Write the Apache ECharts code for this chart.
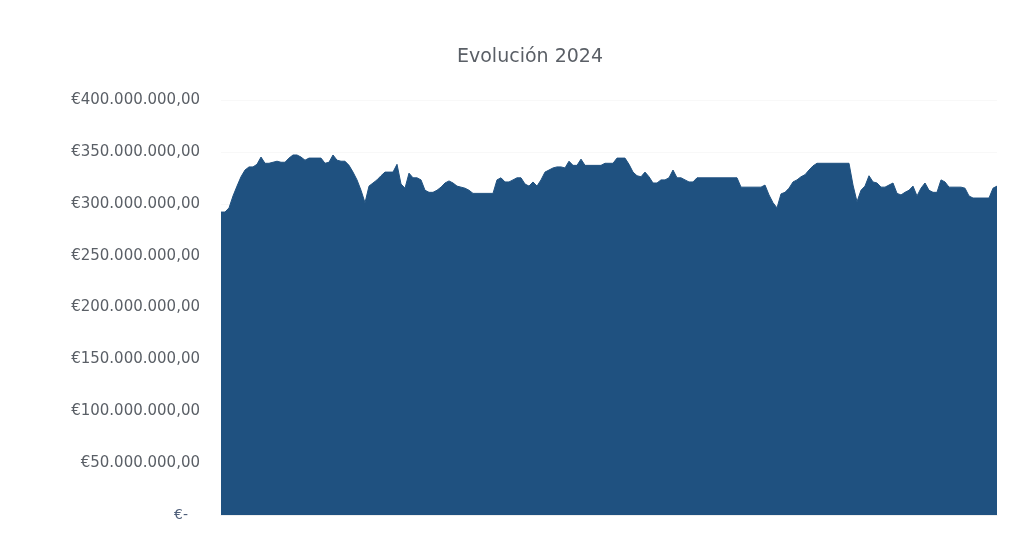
<!DOCTYPE html>
<html>
<head>
<meta charset="utf-8">
<script src="https://cdn.jsdelivr.net/npm/echarts@6/dist/echarts.min.js"></script>
<style>
html,body{margin:0;padding:0;background:#fff;}
#chart{width:1020px;height:545px;}
</style>
</head>
<body>
<div id="chart"></div>
<script>
// Daily portfolio value during 2024, in millions of euros
const valuesM = [
  292, 292, 296, 307.5, 317, 326, 332.5, 335.5, 335.5, 338,
  345, 339, 339, 340, 341, 340, 340, 344, 347, 347,
  345, 342, 344, 344, 344, 344, 339, 340, 347, 342,
  341, 341, 337, 330.5, 323, 313, 301, 317, 320, 323,
  327, 330.5, 330.5, 330.5, 338, 319, 315, 329.5, 325, 325,
  323, 313, 311, 311, 313, 316, 320, 322, 320, 317,
  316, 315, 313, 310, 310, 310, 310, 310, 310, 323,
  325, 321, 321, 323, 325, 325, 319, 317, 321, 317,
  323, 330.5, 332.5, 334.5, 335.5, 335.5, 334.5, 341, 337, 337,
  343, 337, 337, 337, 337, 337, 339, 339, 339, 344,
  344, 344, 338, 330.5, 327, 326, 330.5, 326, 320, 320,
  323, 323, 325, 332.5, 325, 325, 323, 321, 321, 325,
  325, 325, 325, 325, 325, 325, 325, 325, 325, 325,
  316, 316, 316, 316, 316, 316, 318, 308.5, 301, 296,
  309.5, 311, 315, 321, 323, 326, 328, 332.5, 336.5, 339,
  339, 339, 339, 339, 339, 339, 339, 339, 318, 302,
  313, 317, 327, 321, 320, 316, 316, 318, 320, 310,
  308.5, 311, 313, 317, 307.5, 315, 320, 313, 311, 311,
  323, 321, 316, 316, 316, 316, 315, 307.5, 305.5, 305.5,
  305.5, 305.5, 305.5, 315, 317
];
const categories = valuesM.map((_, i) => 'Día ' + (i + 1));
const yTicksM = [0, 50, 100, 150, 200, 250, 300, 350, 400];
const titleText = 'Evolución 2024';

function fmtEuro(m) {
  if (m === 0) return '{z|€-}';
  const s = String(Math.round(m * 1000000));
  const withDots = s.replace(/\B(?=(\d{3})+(?!\d))/g, '.');
  return '€' + withDots + ',00';
}

const chart = echarts.init(document.getElementById('chart'), null, {renderer: 'canvas'});
chart.setOption({
  animation: false,
  backgroundColor: '#ffffff',
  title: {
    text: titleText,
    left: 452,
    top: 43,
    textStyle: {fontFamily: 'DejaVu Sans', fontSize: 19, fontWeight: 'normal', color: '#5a5f66'}
  },
  grid: {left: 221, right: 23, top: 100, bottom: 30, containLabel: false},
  xAxis: {
    type: 'category',
    data: categories,
    boundaryGap: false,
    axisLine: {show: true, lineStyle: {color: '#eeeeee'}},
    axisTick: {show: false},
    axisLabel: {show: false},
    splitLine: {show: false}
  },
  yAxis: {
    type: 'value',
    min: yTicksM[0],
    max: yTicksM[yTicksM.length - 1],
    interval: 50,
    axisLine: {show: false},
    axisTick: {show: false},
    splitLine: {show: true, lineStyle: {color: '#f8f8f8'}},
    axisLabel: {
      margin: 21,
      fontFamily: 'DejaVu Sans',
      fontSize: 15,
      color: '#5a5f66',
      formatter: fmtEuro,
      rich: {z: {fontFamily: 'DejaVu Sans', fontSize: 14, color: '#4f5f7a', padding: [0, 12, 0, 0]}}
    }
  },
  series: [{
    type: 'line',
    data: valuesM,
    symbol: 'none',
    lineStyle: {width: 1, color: '#1f5180'},
    areaStyle: {color: '#1f5180', opacity: 1}
  }]
});
</script>
</body>
</html>
